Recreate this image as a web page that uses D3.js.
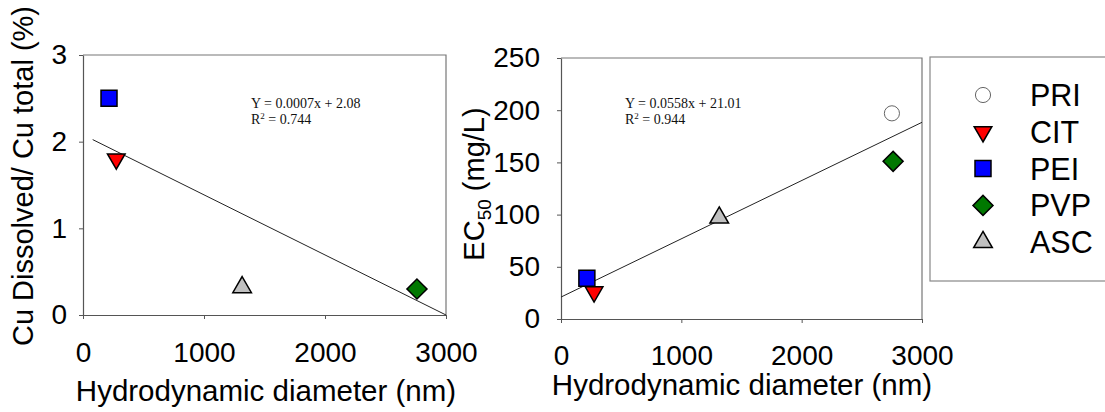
<!DOCTYPE html>
<html>
<head>
<meta charset="utf-8">
<script src="https://cdn.jsdelivr.net/npm/d3@7"></script>
<style>
  body { margin: 0; background: #fff; }
  text { font-family: "Liberation Sans", Arial, sans-serif; fill: #000; }
  .eq { font-family: "Liberation Serif", "Times New Roman", serif; font-size: 14px; fill: #111; }
</style>
</head>
<body>
<svg id="chart"></svg>
<script>
// Copper nanoparticle coatings: hydrodynamic diameter vs dissolution and EC50

// Data
const coatings = ["PRI", "CIT", "PEI", "PVP", "ASC"];
const diameterNm = [2750, 275, 215, 2760, 1315];
const dissolvedPct = [null, 1.8, 2.5, 0.3, 0.32];   // PRI not plotted on the left
const ec50 = [197, 26, 39, 151, 97];

const xTicks = [0, 1000, 2000, 3000];
const leftYTicks = [0, 1, 2, 3];
const rightYTicks = [0, 50, 100, 150, 200, 250];

// Fitted lines as printed on the chart
const leftFit = { slope: -0.0007, intercept: 2.08, from: 80, to: 3000, label: "Y = 0.0007x + 2.08", r2: "0.744" };
const rightFit = { slope: 0.0558, intercept: 21.01, from: 0, to: 3000, label: "Y = 0.0558x + 21.01", r2: "0.944" };

// Marker style per coating
const markerStyle = {
  PRI: { type: d3.symbolCircle, size: 180, rotate: 0, fill: "#fff", stroke: "#666", sw: 1 },
  CIT: { type: d3.symbolTriangle, size: 135, rotate: 180, fill: "#ff0000", stroke: "#000", sw: 1.5 },
  PEI: { type: d3.symbolSquare, size: 256, rotate: 0, fill: "#0000ff", stroke: "#000", sw: 1.5 },
  PVP: { type: d3.symbolSquare, size: 200, rotate: 45, fill: "#007800", stroke: "#000", sw: 1.5 },
  ASC: { type: d3.symbolTriangle, size: 150, rotate: 0, fill: "#c0c0c0", stroke: "#000", sw: 1.5 }
};

const W = 1105, H = 412;
const svg = d3.select("#chart").attr("width", W).attr("height", H);

function drawPanel(opt) {
  const x = d3.scaleLinear().domain([0, 3000]).range([opt.x0, opt.x1]);
  const y = d3.scaleLinear().domain(opt.yDomain).range([opt.y1, opt.y0]);
  const g = svg.append("g");

  // frame (top and right sides)
  g.append("path")
    .attr("d", `M${opt.x0},${opt.y0}H${opt.x1}V${opt.y1}`)
    .attr("fill", "none").attr("stroke", "#777").attr("stroke-width", 1.2);

  const xAxis = g.append("g")
    .attr("transform", `translate(0,${opt.y1})`)
    .call(d3.axisBottom(x).tickValues(xTicks).tickFormat(d3.format("d"))
      .tickSize(4).tickSizeOuter(0).tickPadding(opt.xPad));
  const yAxis = g.append("g")
    .attr("transform", `translate(${opt.x0},0)`)
    .call(d3.axisLeft(y).tickValues(opt.yTicks).tickFormat(d3.format("d"))
      .tickSize(4).tickSizeOuter(0).tickPadding(opt.yPad));
  [xAxis, yAxis].forEach(a => {
    a.select(".domain").attr("stroke", "#555").attr("stroke-width", 1.2);
    a.selectAll(".tick line").attr("stroke", "#555");
    a.selectAll("text").style("font-size", "28px").attr("fill", "#000")
      .style("font-family", '"Liberation Sans", Arial, sans-serif');
  });

  // regression line
  const f = opt.fit;
  g.append("line")
    .attr("x1", x(f.from)).attr("y1", y(f.intercept + f.slope * f.from))
    .attr("x2", x(f.to)).attr("y2", y(Math.max(0, f.intercept + f.slope * f.to)))
    .attr("stroke", "#222").attr("stroke-width", 1);

  // equation
  g.append("text").attr("class", "eq")
    .attr("x", opt.eqX).attr("y", opt.eqY)
    .text(f.label);
  const r2 = g.append("text").attr("class", "eq")
    .attr("x", opt.eqX).attr("y", opt.eqY + 16);
  r2.append("tspan").text("R");
  r2.append("tspan").attr("dy", -5).style("font-size", "9px").text("2");
  r2.append("tspan").attr("dy", 5).text(" = " + f.r2);

  // points
  coatings.forEach((c, i) => {
    const v = opt.values[i];
    if (v == null) return;
    const s = markerStyle[c];
    g.append("path")
      .attr("d", d3.symbol().type(s.type).size(s.size)())
      .attr("transform", `translate(${x(diameterNm[i])},${y(v)}) rotate(${s.rotate})`)
      .attr("fill", s.fill).attr("stroke", s.stroke).attr("stroke-width", s.sw);
  });

  // x label
  g.append("text")
    .attr("x", opt.xLabelX).attr("y", opt.xLabelY)
    .attr("text-anchor", "middle").style("font-size", "29.5px")
    .text("Hydrodynamic diameter (nm)");
  return g;
}

drawPanel({
  x0: 83, x1: 446, y0: 55, y1: 315,
  yDomain: [0, 3], yTicks: leftYTicks,
  xPad: 23, yPad: 12,
  values: dissolvedPct, fit: leftFit,
  eqX: 251, eqY: 108,
  xLabelX: 266, xLabelY: 401
});

drawPanel({
  x0: 561, x1: 922, y0: 58, y1: 319,
  yDomain: [0, 250], yTicks: rightYTicks,
  xPad: 22, yPad: 17,
  values: ec50, fit: rightFit,
  eqX: 625, eqY: 108,
  xLabelX: 742, xLabelY: 395
});

// y labels
svg.append("text")
  .attr("transform", "translate(33,176) rotate(-90)")
  .attr("text-anchor", "middle").style("font-size", "29px")
  .text("Cu Dissolved/ Cu total (%)");

const ecLabel = svg.append("text")
  .attr("transform", "translate(484,184) rotate(-90)")
  .attr("text-anchor", "middle").style("font-size", "29px");
ecLabel.append("tspan").text("EC");
ecLabel.append("tspan").attr("dy", 7).style("font-size", "19px").text("50");
ecLabel.append("tspan").attr("dy", -7).text(" (mg/L)");

// legend
const legend = svg.append("g");
legend.append("rect")
  .attr("x", 930).attr("y", 57).attr("width", 200).attr("height", 224)
  .attr("fill", "none").attr("stroke", "#888").attr("stroke-width", 1.2);
coatings.forEach((c, i) => {
  const s = markerStyle[c];
  const cy = 95 + i * 36.8;
  legend.append("path")
    .attr("d", d3.symbol().type(s.type).size(s.size)())
    .attr("transform", `translate(983,${cy}) rotate(${s.rotate})`)
    .attr("fill", s.fill).attr("stroke", s.stroke).attr("stroke-width", s.sw);
  legend.append("text")
    .attr("x", 1030).attr("y", cy).attr("dy", "0.36em")
    .style("font-size", "30.5px").text(c);
});
</script>
</body>
</html>
